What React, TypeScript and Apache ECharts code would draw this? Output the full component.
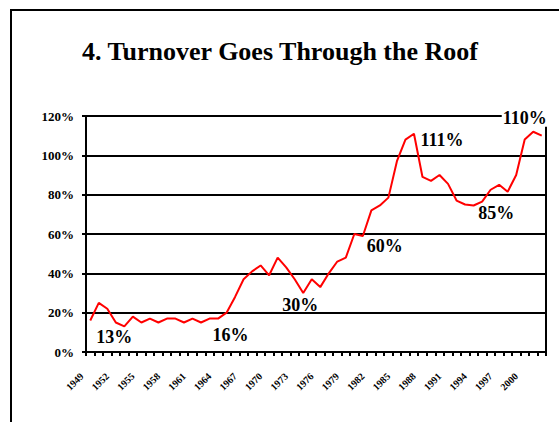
import React, { useEffect, useRef } from "react";
import * as echarts from "echarts";

const years: string[] = [];
for (let y = 1949; y <= 2002; y++) years.push(String(y));

const turnover = [
  16, 25, 22, 15, 13, 18, 15, 17, 15, 17,
  17, 15, 17, 15, 17, 17, 20, 28, 37, 41,
  44, 39, 48, 43, 37, 30, 37, 33, 40, 46,
  48, 60, 59, 72, 74.5, 78.5, 97, 108, 111, 89,
  87, 90, 85.5, 77, 75, 74.5, 76.5, 82.5, 85, 81.5,
  90, 108, 112, 110,
];

const yTicks = [0, 20, 40, 60, 80, 100, 120];

// callouts: index into the series, label text, offset from the point
const callouts: { idx: number; text: string; dx: number; dy: number; bg?: boolean }[] = [
  { idx: 4, text: "13%", dx: -10, dy: 11 },
  { idx: 16, text: "16%", dx: 4, dy: 22 },
  { idx: 25, text: "30%", dx: -3, dy: 12 },
  { idx: 32, text: "60%", dx: 22, dy: 10 },
  { idx: 38, text: "111%", dx: 28, dy: 6 },
  { idx: 48, text: "85%", dx: -3, dy: 28 },
  { idx: 53, text: "110%", dx: -17, dy: -18, bg: true },
];

const FONT = "'Liberation Serif', 'Times New Roman', serif";

export default function App() {
  const ref = useRef<HTMLDivElement>(null);
  useEffect(() => {
    if (!ref.current) return;
    const chart = echarts.init(ref.current, undefined, { renderer: "svg" });
    const data = turnover.map((v, i) => {
      const c = callouts.find((k) => k.idx === i);
      if (!c) return v;
      return {
        value: v,
        label: {
          show: true,
          position: "inside",
          offset: [c.dx, c.dy],
          formatter: c.text,
          fontFamily: FONT,
          fontWeight: "bold",
          fontSize: 18,
          color: "#000",
          backgroundColor: c.bg ? "#fff" : "transparent",
          padding: c.bg ? [0, 1] : 0,
        },
      };
    });
    chart.setOption({
      animation: false,
      backgroundColor: "#fff",
      textStyle: { fontFamily: FONT },
      title: {
        text: "4. Turnover Goes Through the Roof",
        left: 275,
        top: 33,
        textAlign: "center",
        textStyle: { fontFamily: FONT, fontWeight: "bold", fontSize: 26, color: "#000" },
      },
      graphic: [
        {
          type: "rect",
          shape: { x: 11, y: 10, width: 620, height: 520 },
          style: { fill: "none", stroke: "#000", lineWidth: 2 },
          silent: true,
        },
      ],
      grid: {
        left: 86,
        right: 13,
        top: 116,
        bottom: 70,
        show: true,
        borderColor: "#000",
        borderWidth: 2,
        backgroundColor: "transparent",
      },
      xAxis: {
        type: "category",
        data: years,
        boundaryGap: true,
        axisLine: { show: true, lineStyle: { color: "#000", width: 2 } },
        axisTick: { show: true, interval: 0, length: 4, lineStyle: { color: "#000", width: 2 } },
        axisLabel: {
          interval: 2,
          rotate: 45,
          margin: 14,
          padding: [0, 12, 0, 0],
          fontFamily: FONT,
          fontWeight: "bold",
          fontSize: 10,
          color: "#000",
        },
        splitLine: { show: false },
      },
      yAxis: {
        type: "value",
        min: yTicks[0],
        max: yTicks[yTicks.length - 1],
        interval: 20,
        axisLine: { show: true, lineStyle: { color: "#000", width: 2 } },
        axisTick: { show: true, length: 4, lineStyle: { color: "#000", width: 2 } },
        axisLabel: {
          formatter: "{value}%",
          margin: 12,
          fontFamily: FONT,
          fontWeight: "bold",
          fontSize: 13,
          color: "#000",
        },
        splitLine: { show: true, lineStyle: { color: "#000", width: 2 } },
      },
      series: [
        {
          type: "line",
          data,
          showSymbol: true,
          symbol: "circle",
          symbolSize: 0,
          lineStyle: { color: "#ff0000", width: 2 },
          itemStyle: { color: "#ff0000" },
          z: 3,
        },
      ],
    });
    return () => chart.dispose();
  }, []);
  return <div ref={ref} style={{ width: 559, height: 422, position: "absolute", left: 0, top: 0 }} />;
}
